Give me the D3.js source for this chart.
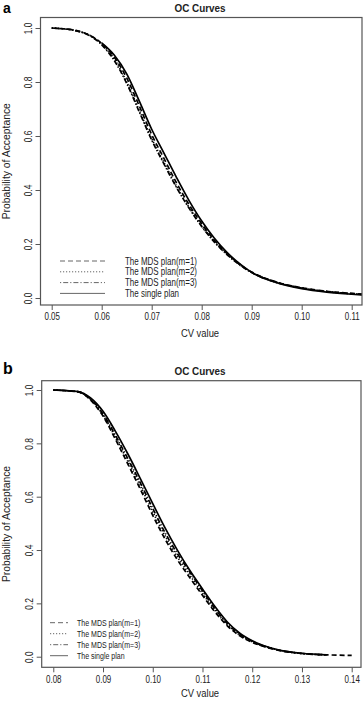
<!DOCTYPE html>
<html>
<head>
<meta charset="utf-8">
<script src="https://cdn.jsdelivr.net/npm/d3@7"></script>
<style>
  body { margin: 0; background: #fff; }
  text { font-family: "Liberation Sans", Arial, sans-serif; fill: #222; }
</style>
</head>
<body>
<div id="chart-area"></div>
<script>
// ---- data ----
const legendLabels = ['The MDS plan(m=1)', 'The MDS plan(m=2)', 'The MDS plan(m=3)', 'The single plan'];

// panel a
const cvA = [0.05, 0.055, 0.06, 0.0625, 0.065, 0.0675, 0.07, 0.0725, 0.075, 0.0775, 0.08, 0.0825, 0.085, 0.0875, 0.09, 0.095, 0.1, 0.105, 0.11, 0.1125];
const mds1A = [1.000, 0.990, 0.943, 0.893, 0.815, 0.712, 0.605, 0.515, 0.425, 0.345, 0.275, 0.215, 0.166, 0.127, 0.096, 0.059, 0.038, 0.025, 0.017, 0.014];
const mds2A = [1.000, 0.990, 0.940, 0.885, 0.800, 0.695, 0.590, 0.500, 0.412, 0.335, 0.267, 0.210, 0.163, 0.125, 0.095, 0.058, 0.037, 0.024, 0.016, 0.013];
const mds3A = [1.000, 0.989, 0.938, 0.880, 0.795, 0.690, 0.585, 0.495, 0.408, 0.332, 0.265, 0.208, 0.162, 0.124, 0.094, 0.058, 0.037, 0.024, 0.016, 0.013];
const singleA = [null, null, 0.945, 0.900, 0.830, 0.730, 0.625, 0.535, 0.445, 0.360, 0.285, 0.222, 0.170, 0.128, 0.095, 0.057, 0.035, 0.022, 0.014, 0.011];
const xTicksA = [0.05, 0.06, 0.07, 0.08, 0.09, 0.10, 0.11];

// panel b
const cvB = [0.08, 0.085, 0.0875, 0.09, 0.0925, 0.095, 0.0975, 0.1, 0.1025, 0.105, 0.1075, 0.11, 0.1125, 0.115, 0.1175, 0.12, 0.125, 0.13, 0.135, 0.14];
const mds1B = [1.000, 0.993, 0.962, 0.902, 0.815, 0.722, 0.628, 0.530, 0.440, 0.362, 0.295, 0.230, 0.168, 0.116, 0.078, 0.054, 0.025, 0.012, 0.007, 0.005];
const mds2B = [1.000, 0.993, 0.964, 0.906, 0.822, 0.732, 0.640, 0.543, 0.452, 0.373, 0.305, 0.238, 0.174, 0.120, 0.081, 0.056, 0.026, 0.012, 0.007, null];
const mds3B = [1.000, 0.994, 0.966, 0.910, 0.830, 0.742, 0.652, 0.556, 0.464, 0.385, 0.316, 0.247, 0.180, 0.124, 0.084, 0.058, 0.026, 0.012, 0.007, null];
const singleB = [1.000, 0.994, 0.970, 0.920, 0.845, 0.760, 0.668, 0.574, 0.482, 0.398, 0.322, 0.254, 0.188, 0.130, 0.088, 0.060, 0.027, 0.013, 0.007, null];
const xTicksB = [0.08, 0.09, 0.10, 0.11, 0.12, 0.13, 0.14];

const yTicks = [0.0, 0.2, 0.4, 0.6, 0.8, 1.0];
const dashes = ['5,3', '1.2,1.8', '1.2,2,5,2', null];

const svg = d3.select('#chart-area')
  .append('svg')
  .attr('width', 363)
  .attr('height', 701);

// the original text is a condensed sans; squeeze it horizontally
function addText(g, x, y, str, size, k, rot) {
  return g.append('text')
    .attr('transform', `translate(${x}, ${y})` + (rot ? ` rotate(${rot})` : '') + ` scale(${k}, 1)`)
    .attr('font-size', size)
    .text(str);
}

function drawPanel(p) {
  const x = d3.scaleLinear().domain(p.xDomain).range([p.left, p.right]);
  const y = d3.scaleLinear().domain(p.yDomain).range([p.bottom, p.top]);
  const g = svg.append('g');

  // panel letter + title
  g.append('text')
    .attr('x', 3).attr('y', p.letterY)
    .attr('font-weight', 'bold').attr('font-size', p.letterSize)
    .style('fill', '#000')
    .text(p.letter);
  addText(g, 200, p.top - 6, 'OC Curves', '11px', 0.9)
    .attr('text-anchor', 'middle')
    .attr('font-weight', 'bold');

  const clipId = 'clip-' + p.letter;
  g.append('clipPath').attr('id', clipId)
    .append('rect')
    .attr('x', p.left).attr('y', p.top)
    .attr('width', p.right - p.left).attr('height', p.bottom - p.top);

  // curves
  const line = d3.line()
    .defined(d => d[1] != null)
    .x(d => x(d[0]))
    .y(d => y(d[1]))
    .curve(d3.curveMonotoneX);

  p.series.forEach((vals, i) => {
    g.append('path')
      .attr('clip-path', `url(#${clipId})`)
      .attr('d', line(p.cv.map((c, k) => [c, vals[k]])))
      .attr('fill', 'none')
      .attr('stroke', '#000')
      .attr('stroke-width', 1.7)
      .attr('stroke-dasharray', dashes[i]);
  });

  // box
  g.append('rect')
    .attr('x', p.left).attr('y', p.top)
    .attr('width', p.right - p.left).attr('height', p.bottom - p.top)
    .attr('fill', 'none').attr('stroke', '#555').attr('stroke-width', 1.2);

  // x axis
  const xAxis = g.append('g')
    .attr('transform', `translate(0, ${p.bottom})`)
    .call(d3.axisBottom(x).tickValues(p.xTicks).tickFormat(d3.format('.2f')).tickSize(5).tickPadding(3));
  xAxis.select('.domain').remove();
  xAxis.selectAll('.tick line').attr('stroke', '#555');
  xAxis.selectAll('.tick text')
    .attr('font-size', '10.5px')
    .attr('font-family', null)
    .attr('transform', 'scale(0.76, 1)')
    .style('fill', '#222');

  // y axis
  const yAxis = g.append('g')
    .attr('transform', `translate(${p.left}, 0)`)
    .call(d3.axisLeft(y).tickValues(yTicks).tickFormat(d3.format('.1f')).tickSize(5));
  yAxis.select('.domain').remove();
  yAxis.selectAll('.tick line').attr('stroke', '#555');
  yAxis.selectAll('.tick text')
    .attr('font-size', '10.5px')
    .attr('font-family', null)
    .attr('text-anchor', 'middle')
    .attr('x', 0).attr('dy', 0)
    .attr('transform', 'translate(-8.5, 0) rotate(-90) scale(0.8, 1)')
    .style('fill', '#222');

  // axis labels
  addText(g, 200, p.bottom + p.xLabelGap, 'CV value', '11.5px', 0.82)
    .attr('text-anchor', 'middle');
  addText(g, 10, (p.top + p.bottom) / 2, 'Probability of Acceptance', '11.5px', 0.9, -90)
    .attr('text-anchor', 'middle');

  // legend
  legendLabels.forEach((lab, i) => {
    const ly = p.legY + i * p.legStep;
    g.append('line')
      .attr('x1', p.legX1).attr('x2', p.legX2)
      .attr('y1', ly).attr('y2', ly)
      .attr('stroke', '#666').attr('stroke-width', 1)
      .attr('stroke-dasharray', dashes[i]);
    addText(g, p.legText, ly, lab, p.legFont, p.legScale)
      .attr('dy', '0.35em');
  });
}

drawPanel({
  letter: 'a', letterY: 12.5, letterSize: '14px',
  cv: cvA, series: [mds1A, mds2A, mds3A, singleA], xTicks: xTicksA,
  xDomain: [0.04776, 0.11206], yDomain: [-0.0259, 1.0389],
  left: 40.5, right: 362, top: 17.5, bottom: 305,
  xLabelGap: 32,
  legX1: 60, legX2: 105, legText: 125, legY: 261, legStep: 10.8, legFont: '10.5px', legScale: 0.76
});

drawPanel({
  letter: 'b', letterY: 373.5, letterSize: '16px',
  cv: cvB, series: [mds1B, mds2B, mds3B, singleB], xTicks: xTicksB,
  xDomain: [0.07767, 0.14187], yDomain: [-0.0397, 1.0349],
  left: 41.7, right: 361, top: 380.7, bottom: 667.3,
  xLabelGap: 30,
  legX1: 50, legX2: 68, legText: 77, legY: 622.7, legStep: 11, legFont: '9.5px', legScale: 0.74
});
</script>
</body>
</html>
